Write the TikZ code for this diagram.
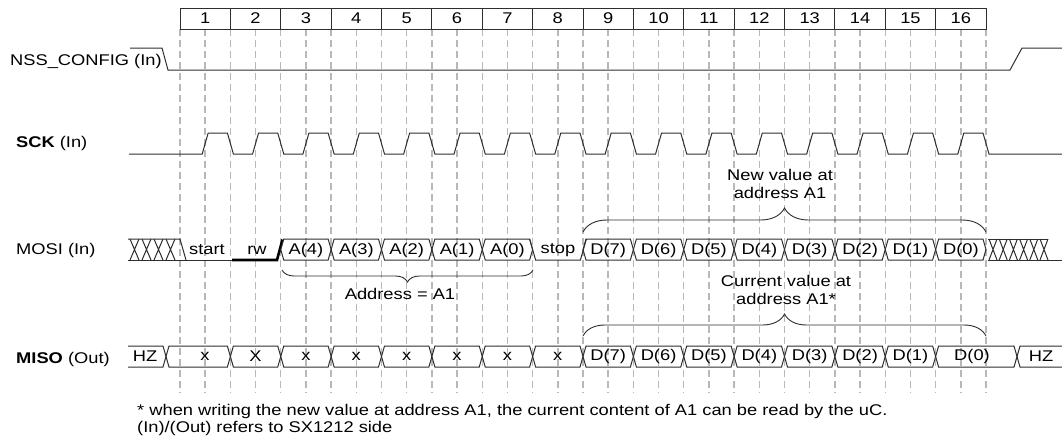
\documentclass[tikz,border=0pt]{standalone}
\usepackage{fontspec}
\setmainfont{Liberation Sans}[FakeStretch=1.18]
\usetikzlibrary{decorations.pathreplacing}

\definecolor{wavecol}{HTML}{2E2E2E}
\definecolor{gridcol}{HTML}{B8B8B8}

\tikzset{
  wave/.style={draw=wavecol, line width=1pt},
  gridline/.style={draw=gridcol, line width=1.4pt, dash pattern=on 7pt off 4pt},
  busbrace/.style={decorate, decoration={brace, amplitude=#1}, draw=wavecol, line width=0.9pt},
  lbl/.style={font=\fontsize{15.5}{18}\selectfont, text=black, inner sep=0pt},
}

\newcommand{\hexcell}[4]{%
\draw[wave] (#1,{(#3+#4)/2}) -- ({#1+3},#3) -- ({#2-3},#3) -- (#2,{(#3+#4)/2})
  -- ({#2-3},#4) -- ({#1+3},#4) -- cycle;}

\begin{document}
\begin{tikzpicture}[x=1pt,y=-1pt]
\useasboundingbox (0,0) rectangle (1062,439);

\foreach \k in {0,...,32}
{
\draw[gridline] ({180+25.1875*\k},29) -- ({180+25.1875*\k},393);
}

\draw[wave] (180,8) rectangle (986,29);
\foreach \i in {1,...,15}
{
\draw[wave] ({180+50.375*\i},8) -- ({180+50.375*\i},29);
}
\foreach \i in {1,...,16}
{
\node[lbl] (hdr\i) at ({180+50.375*\i-25.19},18.5) {\i};
}

\node[lbl, anchor=base west] (nss) at (10,65) {NSS\_CONFIG (In)};
\draw[wave] (130,48) -- (162,48) -- (168,70) -- (1010,70) -- (1022,48) -- (1062,48);

\node[lbl, anchor=base west] (sck) at (16,147) {\textbf{SCK} (In)};
\draw[wave] (129,154)
  \foreach \i in {1,...,16} { -- ({180+50.375*\i-28.19},154) -- ({180+50.375*\i-22.19},133)
  -- ({180+50.375*\i-3},133) -- ({180+50.375*\i+3},154) }
  -- (1062,154);

\node[lbl, anchor=base west] (mosi) at (16,254) {MOSI (In)};
\draw[wave] (128,239) -- (180,239) -- (186,260);
\draw[wave] (128,260) -- (232,260);
\foreach \k in {0,...,3}
{
\draw[wave] ({130+12*\k},239) -- ({139+12*\k},260) ({130+12*\k},260) -- ({139+12*\k},239);
}
\draw[draw=black, line width=2.6pt] (232,260) -- (277,260) -- (282.5,239.5);
\node[lbl] (start) at (207,250) {start};
\node[lbl] (rw) at (257,250) {rw};
\foreach \i/\lab in {3/A(4),4/A(3),5/A(2),6/A(1),7/A(0),9/D(7),10/D(6),11/D(5),12/D(4),13/D(3),14/D(2),15/D(1),16/D(0)}
{
\pgfmathsetmacro\xa{180+50.375*(\i-1)}
\pgfmathsetmacro\xb{180+50.375*\i}
\hexcell{\xa}{\xb}{239}{260}
\node[lbl] (mo\i) at ({(\xa+\xb)/2},250) {\lab};
}
\draw[wave] (529.6,239) -- (535.6,260) -- (580.4,260) -- (586.4,239);
\node[lbl] (stop) at (558,250) {stop};
\draw[wave] (988,239) -- (1048,239);
\draw[wave] (988,260) -- (1062,260);
\foreach \k in {0,...,5}
{
\draw[wave] ({989+10.2*\k},239) -- ({997+10.2*\k},260) ({989+10.2*\k},260) -- ({997+10.2*\k},239);
}

\node[lbl, anchor=base west] (miso) at (16,363) {\textbf{MISO} (Out)};
\draw[wave] (128,346) -- (163,346) -- (166,356.5) -- (163,367) -- (128,367);
\node[lbl] (hzl) at (145,356.5) {HZ};
\hexcell{166}{230.375}{346}{367}
\node[lbl] (mi1) at (205,356.5) {x};
\foreach \i/\lab in {2/X,3/x,4/x,5/x,6/x,7/x,8/x,9/D(7),10/D(6),11/D(5),12/D(4),13/D(3),14/D(2),15/D(1)}
{
\pgfmathsetmacro\xa{180+50.375*(\i-1)}
\pgfmathsetmacro\xb{180+50.375*\i}
\hexcell{\xa}{\xb}{346}{367}
\node[lbl] (mi\i) at ({(\xa+\xb)/2},356.5) {\lab};
}
\hexcell{935.6}{1017}{346}{367}
\node[lbl] (mi16) at (972,356.5) {D(0)};
\draw[wave] (1062,346) -- (1020,346) -- (1017,356.5) -- (1020,367) -- (1062,367);
\node[lbl] (hzr) at (1041,356.5) {HZ};

\coordinate (addrL) at (282,270);
\coordinate (addrR) at (533,270);
\draw[busbrace=12pt] (addrR) -- (addrL);
\node[lbl] (addr) at (400,294) {Address = A1};

\coordinate (newL) at (583,232);
\coordinate (newR) at (986,232);
\draw[busbrace=24pt] (newL) -- (newR);
\node[lbl, align=center] (newval) at (780,184) {New value at\\address A1};

\coordinate (curL) at (583,336);
\coordinate (curR) at (986,336);
\draw[busbrace=22pt] (curL) -- (curR);
\node[lbl, align=center] (curval) at (786,290) {Current value at\\address A1*};

\node[lbl, anchor=base west] (note1) at (137,415) {* when writing the new value at address A1, the current content of A1 can be read by the uC.};
\node[lbl, anchor=base west] (note2) at (137,432) {(In)/(Out) refers to SX1212 side};

\end{tikzpicture}
\end{document}
